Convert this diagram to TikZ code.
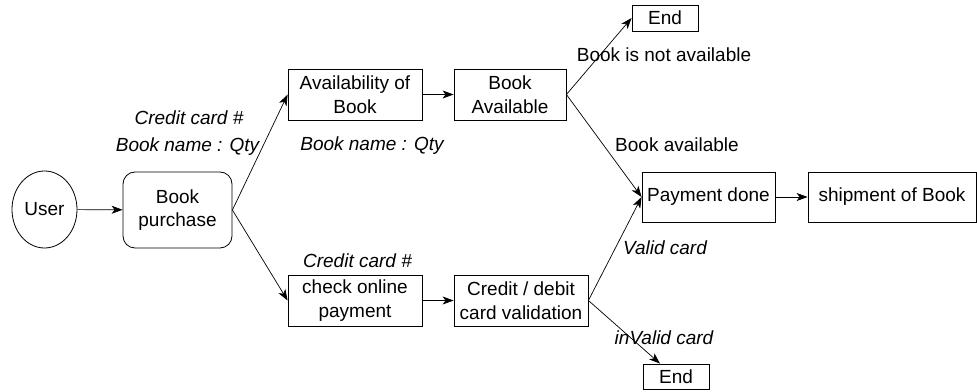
\documentclass[tikz,border=0pt]{standalone}
\usepackage{fontspec}
\setmainfont{Liberation Sans}
\usetikzlibrary{arrows.meta,shapes.geometric,calc}
\tikzset{
    box/.style={draw, line width=0.8pt, inner sep=0pt, align=center},
    lab/.style={font=\fontsize{19}{23.5}\selectfont\itshape},
    flow/.style={line width=0.7pt, -{Stealth[length=11pt,width=8pt,inset=3pt]}},
  }

\begin{document}
\begin{tikzpicture}[x=1pt,y=1pt,font=\fontsize{19}{23.5}\selectfont]
				  \useasboundingbox (0,0) rectangle (977,391);
				  %NOEUDS
				  \node[box,ellipse,minimum width=65,minimum height=77] (user) at (44.5,181.5) {User};
				  \node[box,rounded corners=12pt,minimum width=109,minimum height=76] (purchase) at (177.5,181) {Book\\purchase};
				  \node[box,minimum width=134,minimum height=51] (avail) at (355,296.5) {Availability of\\Book};
				  \node[box,minimum width=112,minimum height=51] (bookav) at (510,296.5) {Book\\Available};
				  \node[box,minimum width=134,minimum height=51] (online) at (355,90.5) {check online\\payment};
				  \node[box,minimum width=134,minimum height=51] (valid) at (521,90.5) {Credit / debit\\card validation};
				  \node[box,minimum width=133,minimum height=50] (payment) at (708.5,194) {Payment done};
				  \node[box,minimum width=168,minimum height=50] (ship) at (892,194) {shipment of Book};
				  \node[box,minimum width=66,minimum height=26] (endtop) at (665,373) {End};
				  \node[box,minimum width=66,minimum height=25] (endbot) at (676,14.5) {End};
				  %FLECHES
				  \draw[flow] (user) -- (purchase);
				  \draw[flow] (purchase.east) -- (avail.west);
				  \draw[flow] (purchase.east) -- (online.west);
				  \draw[flow] (avail) -- (bookav);
				  \draw[flow] (online) -- (valid);
				  \draw[flow] (bookav.east) -- (endtop.west);
				  \draw[flow] (bookav.east) -- (payment.west);
				  \draw[flow] (valid.east) -- (payment.west);
				  \draw[flow] (valid.east) -- ([xshift=-16pt]endbot.north);
				  \draw[flow] (payment) -- (ship);
				  %ETIQUETTES
				  \node[lab] (cc1) at (189,273) {Credit card \#};
				  \node[lab] (bn1) at (187.5,244) {Book name : Qty};
				  \node[lab] (bn2) at (372,245) {Book name : Qty};
				  \node[lab] (cc2) at (357.5,130) {Credit card \#};
				  \node (notav) at (664,336) {Book is not available};
				  \node (av) at (677,246) {Book available};
				  \node[lab] (vc) at (665,143) {Valid card};
				  \node[lab] (ivc) at (664,53) {inValid card};
				  \end{tikzpicture}
\end{document}
